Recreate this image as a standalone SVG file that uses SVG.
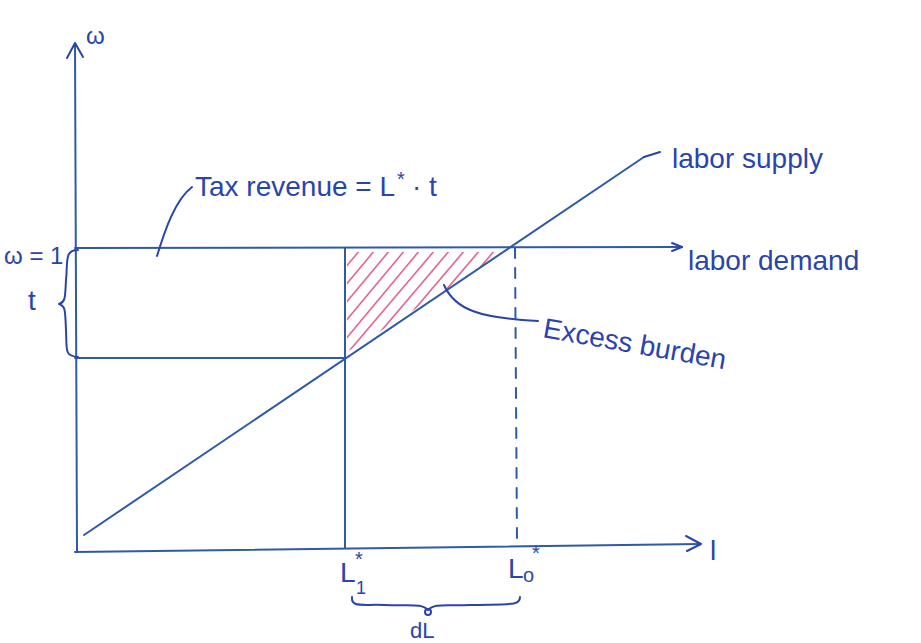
<svg xmlns="http://www.w3.org/2000/svg" width="921" height="643" viewBox="0 0 921 643">
<style>
.ln{stroke:#2f5aa8;stroke-width:2;fill:none;stroke-linecap:round}
.ink{stroke:#2a44ad;stroke-width:2;fill:none;stroke-linecap:round;stroke-linejoin:round}
.hatch{stroke:#e8467c;stroke-width:1.6;stroke-linecap:round;opacity:0.85}
text{font-family:"Liberation Sans",Arial,sans-serif;fill:#2a44ad}
.lbl{font-size:28px}
.sm{font-size:24px}
.sup{font-size:20px}
</style>
<defs>
<clipPath id="tri"><polygon points="347,252 506,252 347,352"/></clipPath>
</defs>
<rect width="921" height="643" fill="#ffffff"/>
<g id="axes">
<path class="ln" d="M77,552 L75,44"/>
<path class="ink" d="M67,58 L75,43 L83,57"/>
<path class="ln" d="M75,552 L700,544"/>
<path class="ink" d="M686,536 L701,544 L687,551"/>
<text x="86" y="44" class="sm">ω</text>
<text x="710" y="560" class="lbl">l</text>
</g>
<g id="excess-burden-area" clip-path="url(#tri)">
<g class="hatch">
<line x1="345" y1="340" x2="420" y2="250"/>
<line x1="345" y1="322" x2="405" y2="250"/>
<line x1="345" y1="304" x2="390" y2="250"/>
<line x1="345" y1="286" x2="375" y2="250"/>
<line x1="345" y1="268" x2="360" y2="250"/>
<line x1="350" y1="350" x2="435" y2="250"/>
<line x1="365" y1="350" x2="450" y2="250"/>
<line x1="380" y1="350" x2="465" y2="250"/>
<line x1="395" y1="350" x2="480" y2="250"/>
<line x1="410" y1="350" x2="495" y2="250"/>
<line x1="425" y1="350" x2="510" y2="250"/>
</g>
</g>
<g id="labor-demand">
<path class="ln" d="M75,248 L682,247"/>
<path class="ink" d="M672,243 L682,247 L672,251"/>
<text x="688" y="270" class="lbl">labor demand</text>
</g>
<g id="labor-supply">
<path class="ln" d="M84,535 L644,157"/>
<path class="ink" d="M644,157 L660,152"/>
<text x="672" y="168" class="lbl">labor supply</text>
</g>
<g id="tax-line">
<path class="ln" d="M75,358 L345,358"/>
<path class="ln" d="M345,248 L345,548"/>
<path class="ln" d="M515,248 L517,540" stroke-dasharray="10,10"/>
</g>
<g id="connectors">
<path class="ink" d="M157,256 C165,230 175,200 192,187"/>
<path class="ink" d="M444,285 C455,310 480,318 538,321"/>
<path class="ink" d="M78,250 C64,250 68,262 66,280 C65,296 66,302 59,304 C66,306 65,312 66,330 C67,350 64,356 78,357"/>
<path class="ink" d="M352,597 C351,608 362,604 385,605 C410,606 422,603 428,610 C434,603 446,606 470,605 C510,604 520,606 520,597"/>
<circle cx="428" cy="612" r="3" class="ink"/>
</g>
<g id="labels">
<text x="195" y="196" class="lbl">Tax revenue = L</text>
<text x="397" y="186" class="sup">*</text>
<text x="412" y="196" class="lbl">· t</text>
<text x="4" y="264" class="sm">ω = 1</text>
<text x="28" y="310" class="lbl">t</text>
<text x="542" y="337" class="lbl" transform="rotate(10 542 337)">Excess burden</text>
<text x="340" y="582" class="lbl">L</text>
<text x="355" y="566" class="sup">*</text>
<text x="356" y="594" style="font-size:18px">1</text>
<text x="508" y="578" class="lbl">L</text>
<text x="532" y="560" class="sup">*</text>
<text x="523" y="582" class="sup">o</text>
<text x="410" y="638" style="font-size:22px">dL</text>
</g>
</svg>
